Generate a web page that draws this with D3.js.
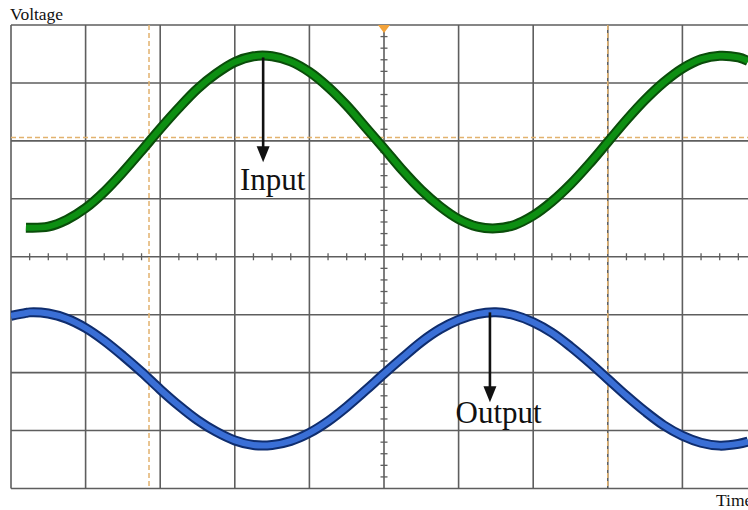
<!DOCTYPE html>
<html><head><meta charset="utf-8">
<script src="https://cdn.jsdelivr.net/npm/d3@7"></script>
<style>body{margin:0;background:#fff}svg{display:block}</style>
</head><body>
<svg id="c" width="748" height="510"></svg>
<script>
// time in divisions (10 divisions across), voltage in divisions (±4)
const timeDivs = [0,0.2,0.25,0.5,0.75,1,1.25,1.5,1.75,2,2.25,2.5,2.75,3,3.25,3.5,3.75,4,4.25,4.5,4.75,5,5.25,5.5,5.75,6,6.25,6.5,6.75,7,7.25,7.5,7.75,8,8.25,8.5,8.75,9,9.25,9.5,9.75,9.88];
const inputVolts = [null,0.50,0.50,0.52,0.64,0.84,1.12,1.46,1.83,2.21,2.57,2.90,3.16,3.36,3.46,3.46,3.37,3.19,2.93,2.61,2.24,1.87,1.49,1.15,0.87,0.65,0.52,0.49,0.55,0.71,0.95,1.25,1.60,1.98,2.36,2.71,3.01,3.25,3.41,3.47,3.44,3.38];
const outputVolts = [-1.02,-0.97,-0.96,-0.98,-1.07,-1.23,-1.45,-1.71,-1.99,-2.29,-2.57,-2.82,-3.02,-3.17,-3.25,-3.25,-3.18,-3.04,-2.84,-2.59,-2.31,-2.02,-1.74,-1.47,-1.25,-1.09,-0.99,-0.96,-1.01,-1.13,-1.31,-1.55,-1.82,-2.11,-2.40,-2.67,-2.91,-3.09,-3.21,-3.26,-3.23,-3.19];
const xTicks = [0,1,2,3,4,5,6,7,8,9,10];
const yTicks = [-4,-3,-2,-1,0,1,2,3,4];
const xMinorStep = 0.25, yMinorStep = 0.2;
const cursorTimes = [1.85, 8.0];
const cursorVolts = [2.06];
const labels = [
  {text:"Input",  t:3.07, v:1.15, arrowT:3.38, from:3.44, to:1.63},
  {text:"Output", t:5.96, v:-2.87, arrowT:6.42, from:-0.96, to:-2.51}
];
const axisLabelY = "Voltage", axisLabelX = "Time";

const svg = d3.select("#c");
const x = d3.scaleLinear().domain([0,10]).range([11,757]);
const y = d3.scaleLinear().domain([-4,4]).range([488.5,25]);

svg.append("defs").append("clipPath").attr("id","clip")
  .append("rect").attr("x",11).attr("y",25).attr("width",746).attr("height",463.5);

const g = svg.append("g");
// grid
g.selectAll(".vg").data(xTicks).join("line")
  .attr("x1",d=>x(d)).attr("x2",d=>x(d)).attr("y1",y(4)).attr("y2",y(-4))
  .attr("stroke","#5e5e5e").attr("stroke-width",1.6);
g.selectAll(".hg").data(yTicks).join("line")
  .attr("x1",x(0)).attr("x2",x(10)).attr("y1",d=>y(d)).attr("y2",d=>y(d))
  .attr("stroke","#5e5e5e").attr("stroke-width",1.6);
// minor ticks on centre axes
const minorX = d3.range(0,10/xMinorStep).map(i=>i*xMinorStep).filter(d=>Math.abs(d-Math.round(d))>0.01);
const minorY = d3.range(-4/yMinorStep,4/yMinorStep).map(i=>i*yMinorStep).filter(d=>Math.abs(d-Math.round(d))>0.01);
g.selectAll(".mx").data(minorX).join("line")
  .attr("x1",d=>x(d)).attr("x2",d=>x(d)).attr("y1",y(0)-3.5).attr("y2",y(0)+3.5)
  .attr("stroke","#5e5e5e").attr("stroke-width",1.3);
g.selectAll(".my").data(minorY).join("line")
  .attr("x1",x(5)-3.5).attr("x2",x(5)+3.5).attr("y1",d=>y(d)).attr("y2",d=>y(d))
  .attr("stroke","#5e5e5e").attr("stroke-width",1.3);

// cursors
g.selectAll(".cx").data(cursorTimes).join("line")
  .attr("x1",d=>x(d)).attr("x2",d=>x(d)).attr("y1",y(4)).attr("y2",y(-4))
  .attr("stroke","#e2b26e").attr("stroke-width",1.5).attr("stroke-dasharray","5,3");
g.selectAll(".cy").data(cursorVolts).join("line")
  .attr("x1",x(0)).attr("x2",x(10)).attr("y1",d=>y(d)).attr("y2",d=>y(d))
  .attr("stroke","#e2b26e").attr("stroke-width",1.5).attr("stroke-dasharray","5,3");

// trigger marker
svg.append("path")
  .attr("d",`M${x(5)-6},${y(4)} L${x(5)+6},${y(4)} L${x(5)},${y(4)+8} Z`)
  .attr("fill","#f3a33a");

// traces
const line = (vals)=>d3.line().defined((d,i)=>vals[i]!=null)
  .x((d,i)=>x(timeDivs[i])).y((d,i)=>y(vals[i])).curve(d3.curveCatmullRom)(timeDivs);
const traces = svg.append("g").attr("clip-path","url(#clip)");
[[inputVolts,"#0a4d0a","#0d8f12"],[outputVolts,"#0f2d6e","#3a6fd6"]].forEach(([vals,dark,col])=>{
  traces.append("path").attr("d",line(vals)).attr("fill","none")
    .attr("stroke",dark).attr("stroke-width",10).attr("stroke-linecap","butt");
  traces.append("path").attr("d",line(vals)).attr("fill","none")
    .attr("stroke",col).attr("stroke-width",6).attr("stroke-linecap","butt");
});

// annotations
labels.forEach(l=>{
  const ax = x(l.arrowT);
  svg.append("line").attr("x1",ax).attr("x2",ax).attr("y1",y(l.from)).attr("y2",y(l.to)-14)
    .attr("stroke","#111").attr("stroke-width",2.6);
  svg.append("path").attr("d",`M${ax-6.5},${y(l.to)-16} L${ax+6.5},${y(l.to)-16} L${ax},${y(l.to)} Z`)
    .attr("fill","#111");
  svg.append("text").attr("x",x(l.t)).attr("y",y(l.v))
    .attr("font-family","Liberation Serif, Times New Roman, serif").attr("font-size",31)
    .attr("fill","#111").text(l.text);
});

svg.append("text").attr("x",10).attr("y",20)
  .attr("font-family","Liberation Serif, serif").attr("font-size",17.5).attr("fill","#111").text(axisLabelY);
svg.append("text").attr("x",716).attr("y",506)
  .attr("font-family","Liberation Serif, serif").attr("font-size",17.5).attr("fill","#111").text(axisLabelX);
</script>
</body></html>
